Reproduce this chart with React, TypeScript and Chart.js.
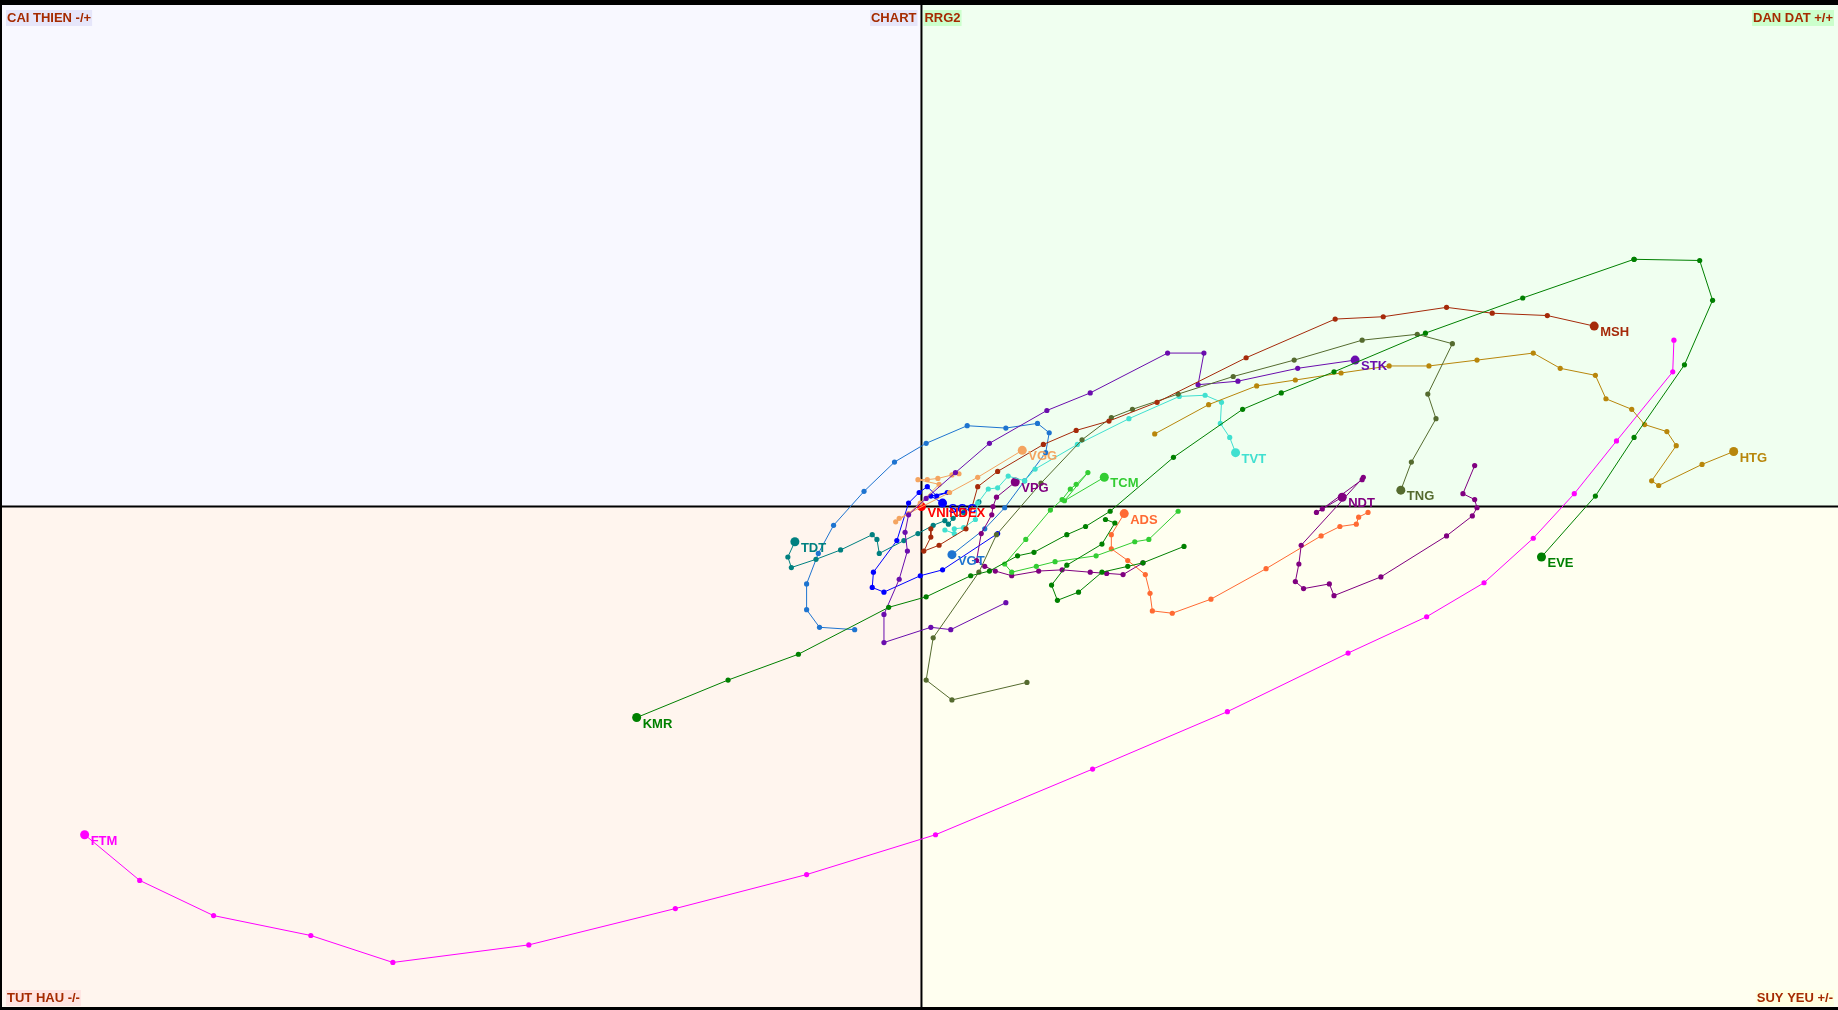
import React, { useEffect, useRef } from "react";
import { Chart, registerables } from "chart.js";

Chart.register(...registerables);

// RS-Ratio (x) / RS-Momentum (y) axis window
const X_MIN = 84.31;
const X_MAX = 115.64;
const Y_MIN = 91.46;
const Y_MAX = 108.56;
const CENTER = 100;

type P = [number, number];

const FTM: P[] = [[112.84,102.84],[112.82,102.30],[111.86,101.12],[111.14,100.22],[110.44,99.46],[109.60,98.70],[108.62,98.12],[107.28,97.50],[105.22,96.50],[102.92,95.52],[100.24,94.40],[98.04,93.72],[95.80,93.14],[93.30,92.52],[90.98,92.22],[89.58,92.68],[87.92,93.02],[86.66,93.62],[85.72,94.40]];
const EVE: P[] = [[112.16,104.22],[113.28,104.20],[113.50,103.52],[113.02,102.42],[112.16,101.18],[111.50,100.18],[110.58,99.14]];
const KMR: P[] = [[112.16,104.22],[110.26,103.56],[108.60,102.96],[107.04,102.30],[106.14,101.94],[105.48,101.66],[104.30,100.84],[103.22,99.92],[102.80,99.66],[102.48,99.52],[101.92,99.22],[101.64,99.16],[101.16,98.90],[100.84,98.82],[100.08,98.46],[99.44,98.28],[97.90,97.48],[96.70,97.04],[95.14,96.40]];
const MSH: P[] = [[100.16,99.62],[100.16,99.48],[100.04,99.24],[100.30,99.34],[100.76,99.62],[100.96,100.34],[101.30,100.60],[102.08,101.06],[102.64,101.30],[103.20,101.46],[104.02,101.78],[105.54,102.54],[107.06,103.20],[107.88,103.24],[108.96,103.40],[109.74,103.30],[110.68,103.26],[111.48,103.08]];
const TNG: P[] = [[101.80,97.00],[100.52,96.70],[100.08,97.04],[100.20,97.76],[100.98,98.88],[101.28,99.52],[102.04,100.40],[102.74,101.14],[103.24,101.52],[103.60,101.66],[104.38,101.92],[105.32,102.22],[106.36,102.50],[107.52,102.84],[108.46,102.94],[109.06,102.78],[108.64,101.92],[108.78,101.50],[108.36,100.76],[108.18,100.28]];
const HTG: P[] = [[103.98,101.24],[104.90,101.74],[105.72,102.06],[106.38,102.16],[107.16,102.28],[107.98,102.40],[108.66,102.40],[109.48,102.50],[110.44,102.62],[110.90,102.36],[111.50,102.24],[111.68,101.84],[112.12,101.66],[112.34,101.40],[112.72,101.28],[112.88,101.04],[112.46,100.44],[112.58,100.36],[113.32,100.72],[113.86,100.94]];
const STK: P[] = [[101.44,98.36],[100.50,97.90],[100.16,97.94],[99.36,97.68],[99.36,98.16],[99.62,98.76],[99.76,99.24],[99.72,99.56],[99.78,99.86],[100.08,100.14],[100.58,100.58],[101.16,101.08],[102.14,101.64],[102.88,101.94],[104.20,102.62],[104.82,102.62],[104.72,102.08],[105.40,102.14],[106.42,102.36],[107.40,102.50]];
const NDT: P[] = [[109.44,100.70],[109.24,100.22],[109.44,100.12],[109.48,99.98],[109.40,99.84],[108.96,99.50],[107.84,98.80],[107.04,98.48],[106.96,98.68],[106.52,98.60],[106.38,98.72],[106.44,99.02],[106.48,99.34],[107.54,100.50],[107.52,100.46],[106.84,99.96],[106.74,99.90],[107.18,100.16]];
const ADS: P[] = [[107.62,99.90],[107.46,99.82],[107.42,99.70],[107.14,99.66],[106.82,99.50],[105.88,98.94],[104.94,98.42],[104.28,98.18],[103.94,98.22],[103.90,98.52],[103.82,98.84],[103.52,99.08],[103.24,99.28],[103.24,99.52],[103.46,99.88]];
const TVT: P[] = [[100.40,99.60],[100.56,99.54],[100.56,99.62],[100.72,99.64],[100.92,99.78],[100.96,100.06],[101.14,100.30],[101.30,100.32],[101.48,100.52],[101.76,100.44],[101.94,100.64],[102.66,101.06],[103.54,101.50],[104.40,101.88],[104.84,101.90],[105.12,101.78],[105.10,101.42],[105.26,101.18],[105.36,100.92]];
const VGG: P[] = [[100.64,100.56],[100.52,100.54],[100.28,100.48],[100.10,100.46],[99.94,100.46],[100.30,100.38],[99.98,100.06],[99.78,99.88],[99.56,99.74],[99.62,99.80],[100.48,100.24],[100.96,100.50],[101.72,100.96]];
const VPG: P[] = [[103.78,99.04],[103.44,98.84],[103.16,98.86],[102.88,98.88],[102.40,98.92],[102.00,98.90],[101.54,98.82],[101.26,98.90],[101.08,98.98],[100.94,99.08],[101.02,99.54],[101.20,99.86],[101.22,100.00],[101.28,100.16],[101.60,100.42]];
const TDT: P[] = [[100.98,100.08],[100.72,99.90],[100.54,99.80],[100.46,99.70],[100.40,99.76],[100.20,99.68],[99.94,99.54],[99.70,99.42],[99.28,99.20],[99.24,99.44],[99.16,99.52],[98.62,99.26],[98.20,99.10],[97.78,98.96],[97.72,99.14],[97.84,99.40]];
const VGT: P[] = [[98.86,97.90],[98.26,97.94],[98.04,98.24],[98.04,98.68],[98.24,99.20],[98.50,99.68],[99.02,100.26],[99.54,100.76],[100.08,101.08],[100.78,101.38],[101.44,101.34],[101.98,101.42],[102.18,101.26],[102.12,100.92],[101.76,100.44],[101.42,99.98],[101.08,99.62],[100.52,99.18]];
const SGC: P[] = [[101.30,99.54],[100.36,98.92],[99.98,98.82],[99.36,98.54],[99.16,98.62],[99.18,98.88],[99.58,99.42],[99.78,100.06],[99.96,100.24],[100.10,100.34],[100.26,100.18],[100.44,100.24],[100.16,100.18],[100.36,100.06]];
const TCM: P[] = [[104.38,99.92],[103.88,99.44],[103.64,99.40],[102.98,99.16],[102.28,99.06],[101.96,98.98],[101.54,98.88],[101.42,99.02],[101.78,99.44],[102.20,99.94],[102.40,100.12],[102.54,100.30],[102.64,100.38],[102.84,100.58],[102.44,100.10],[103.12,100.50]];
const DLOOP: P[] = [[104.48,99.32],[103.78,99.04],[103.52,98.98],[103.08,98.88],[102.68,98.54],[102.32,98.40],[102.22,98.66],[102.48,99.00],[103.08,99.36],[103.30,99.72],[103.14,99.78]];
const VNINDEX: P[] = [[100.0,100.0]];

const SERIES: { name: string; color: string; pts: P[]; label: boolean }[] = [
  { name: "KMR", color: "#008000", pts: KMR, label: true },
  { name: "EVE", color: "#008000", pts: EVE, label: true },
  { name: "DLOOP", color: "#008000", pts: DLOOP, label: false },
  { name: "TCM", color: "#32CD32", pts: TCM, label: true },
  { name: "MSH", color: "#A52A0A", pts: MSH, label: true },
  { name: "TNG", color: "#556B2F", pts: TNG, label: true },
  { name: "HTG", color: "#B8860B", pts: HTG, label: true },
  { name: "STK", color: "#6A0DAD", pts: STK, label: true },
  { name: "NDT", color: "#800080", pts: NDT, label: true },
  { name: "ADS", color: "#FF6A33", pts: ADS, label: true },
  { name: "TVT", color: "#40E0D0", pts: TVT, label: true },
  { name: "VGG", color: "#F4A460", pts: VGG, label: true },
  { name: "VPG", color: "#800080", pts: VPG, label: true },
  { name: "TDT", color: "#008080", pts: TDT, label: true },
  { name: "VGT", color: "#1E74D0", pts: VGT, label: true },
  { name: "FTM", color: "#FF00FF", pts: FTM, label: true },
  { name: "SGC", color: "#0000FF", pts: SGC, label: true },
  { name: "VNINDEX", color: "#FF0000", pts: VNINDEX, label: true },
];

const CORNER_TEXT_COLOR = "#A52A00";
const QUAD = {
  tl: "#F8F8FF",
  tr: "#F0FFF0",
  bl: "#FFF5EE",
  br: "#FFFFF0",
};

const rrgPlugin = {
  id: "rrgDecor",
  beforeDraw(chart: any) {
    const { ctx, width, height } = chart;
    ctx.save();
    ctx.fillStyle = "#000000";
    ctx.fillRect(0, 0, width, height);
    ctx.restore();
  },
  beforeDatasetsDraw(chart: any) {
    const { ctx, chartArea: a, scales } = chart;
    const cx = scales.x.getPixelForValue(CENTER);
    const cy = scales.y.getPixelForValue(CENTER);
    ctx.save();
    ctx.fillStyle = QUAD.tl;
    ctx.fillRect(a.left, a.top, cx - a.left, cy - a.top);
    ctx.fillStyle = QUAD.tr;
    ctx.fillRect(cx, a.top, a.right - cx, cy - a.top);
    ctx.fillStyle = QUAD.bl;
    ctx.fillRect(a.left, cy, cx - a.left, a.bottom - cy);
    ctx.fillStyle = QUAD.br;
    ctx.fillRect(cx, cy, a.right - cx, a.bottom - cy);

    // corner labels
    ctx.font = "bold 13px 'Liberation Sans', Arial, sans-serif";
    ctx.textBaseline = "alphabetic";
    const box = (text: string, x: number, y: number, align: "left" | "right", bg: string) => {
      const w = ctx.measureText(text).width;
      const bx = align === "left" ? x : x - w;
      ctx.fillStyle = bg;
      ctx.fillRect(bx - 1, y - 12, w + 2, 16);
      ctx.fillStyle = CORNER_TEXT_COLOR;
      ctx.textAlign = "left";
      ctx.fillText(text, bx, y);
    };
    box("CAI THIEN -/+", a.left + 5, a.top + 17, "left", "#E6E6FA");
    box("CHART", cx - 5, a.top + 17, "right", "#E6E6FA");
    box("RRG2", cx + 3, a.top + 17, "left", "#CCFFCC");
    box("DAN DAT +/+", a.right - 5, a.top + 17, "right", "#CCFFCC");
    box("TUT HAU -/-", a.left + 5, a.bottom - 5, "left", "#FFE4E1");
    box("SUY YEU +/-", a.right - 5, a.bottom - 5, "right", "#FFFFE0");

    // centre cross
    ctx.strokeStyle = "#000000";
    ctx.lineWidth = 2;
    ctx.beginPath();
    ctx.moveTo(cx, a.top);
    ctx.lineTo(cx, a.bottom);
    ctx.moveTo(a.left, cy);
    ctx.lineTo(a.right, cy);
    ctx.stroke();
    ctx.restore();
  },
  afterDatasetsDraw(chart: any) {
    const { ctx } = chart;
    ctx.save();
    ctx.font = "bold 13px 'Liberation Sans', Arial, sans-serif";
    ctx.textAlign = "left";
    ctx.textBaseline = "alphabetic";
    chart.data.datasets.forEach((ds: any, i: number) => {
      if (!ds.showTicker) return;
      const meta = chart.getDatasetMeta(i);
      const el = meta.data[meta.data.length - 1];
      if (!el) return;
      ctx.fillStyle = ds.borderColor;
      ctx.fillText(ds.label, el.x + 6, el.y + 10);
    });
    ctx.restore();
  },
};

export default function App() {
  const ref = useRef<HTMLCanvasElement | null>(null);
  useEffect(() => {
    document.body.style.margin = "0";
    document.body.style.background = "#000";
    const canvas = ref.current;
    if (!canvas) return;
    const datasets = SERIES.map((s) => {
      const last = s.pts.length - 1;
      return {
        label: s.name,
        showTicker: s.label,
        data: s.pts.map(([x, y]) => ({ x, y })),
        showLine: true,
        borderColor: s.color,
        backgroundColor: s.color,
        borderWidth: 1,
        pointBackgroundColor: s.color,
        pointBorderColor: s.color,
        pointBorderWidth: 0,
        pointRadius: (c: any) => (s.label && c.dataIndex === last ? 4.5 : 2.6),
        pointHoverRadius: 0,
        tension: 0,
        clip: false,
      };
    });
    const chart = new Chart(canvas, {
      type: "scatter",
      data: { datasets } as any,
      options: {
        animation: false,
        responsive: false,
        maintainAspectRatio: false,
        devicePixelRatio: 1,
        layout: { autoPadding: false, padding: { left: 2, top: 5, right: 0, bottom: 3 } },
        scales: {
          x: { type: "linear", min: X_MIN, max: X_MAX, display: false },
          y: { type: "linear", min: Y_MIN, max: Y_MAX, display: false },
        },
        plugins: { legend: { display: false }, tooltip: { enabled: false } },
        events: [],
      } as any,
      plugins: [rrgPlugin],
    });
    return () => chart.destroy();
  }, []);
  return (
    <div style={{ width: 1838, height: 1010, background: "#000" }}>
      <canvas ref={ref} width={1838} height={1010} style={{ display: "block", width: 1838, height: 1010 }} />
    </div>
  );
}
